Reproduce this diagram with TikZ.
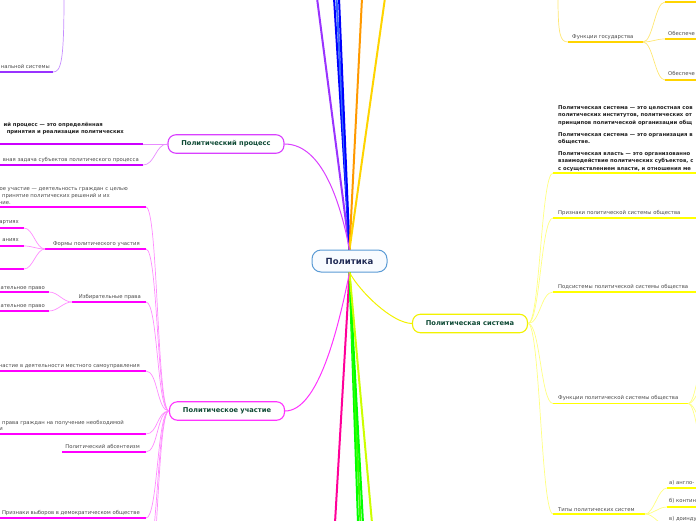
\documentclass[tikz,border=0pt]{standalone}
\usepackage{fontspec}
\setmainfont{DejaVu Sans}
\usetikzlibrary{positioning}
\definecolor{centerblue}{HTML}{5B9BD5}
\definecolor{centerfill}{HTML}{F8FBFF}
\definecolor{navytext}{HTML}{1F2A55}
\definecolor{topictext}{HTML}{0F4A35}
\definecolor{leaftext}{HTML}{4A4A4A}
\definecolor{boldtext}{HTML}{222222}
\definecolor{procpurple}{HTML}{CC00FF}
\definecolor{partmagenta}{HTML}{FF00FF}
\definecolor{sysyellow}{HTML}{FFFF00}
\definecolor{stategold}{HTML}{FFD400}
\definecolor{topviolet}{HTML}{9933FF}
\definecolor{deepblue}{HTML}{0000FF}
\definecolor{midblue}{HTML}{3366FF}
\definecolor{lineorange}{HTML}{FF9900}
\definecolor{linepink}{HTML}{FF0099}
\definecolor{linegreen}{HTML}{00FF00}
\definecolor{linelime}{HTML}{CCFF00}

\begin{document}
\begin{tikzpicture}[x=1pt, y=-1pt,
    central/.style={rectangle, rounded corners=9pt, draw=centerblue, fill=centerfill, line width=1pt, minimum width=75pt, minimum height=22pt, inner sep=0pt, font=\fontsize{8.5}{10}\selectfont\bfseries, text=navytext},
    topic/.style={rectangle, rounded corners=8pt, fill=white, line width=1.1pt, minimum width=115pt, minimum height=18.5pt, inner sep=0pt, font=\fontsize{6.7}{8}\selectfont\bfseries, text=topictext},
    leaf/.style={inner sep=0pt, align=left, font=\fontsize{5.3}{7}\selectfont, text=leaftext},
    boldleaf/.style={leaf, font=\fontsize{5.3}{7.3}\selectfont\bfseries, text=boldtext},
    branch/.style={line width=2pt},
    link/.style={line width=1pt},
    bar/.style={line width=1.8pt},
    twig/.style={line width=0.7pt},
    fan/.style={out=0, in=180, distance=12pt}
]
\useasboundingbox (0,0) rectangle (696,520);
\clip (0,0) rectangle (696,520);

% centre and main topics
\node[central] (pol) at (349.5,261) {Политика};
\node[topic, draw=procpurple!75, minimum width=116pt] (proc) at (226,144) {Политический процесс};
\node[topic, draw=partmagenta!80] (part) at (227,411) {Политическое участие};
\node[topic, draw=sysyellow!95!black] (sys) at (470,323.5) {Политическая система};

% branches leaving the picture
\foreach \tag/\xx/\col in {a/317/topviolet, b/334/deepblue, c/336.5/midblue, d/339/deepblue, e/362/lineorange, f/385/stategold}{
  \coordinate (top\tag) at (\xx,-2);
  \draw[branch, \col] (pol.north) -- (top\tag);
}
\foreach \tag/\xx/\col in {a/335/linepink, b/358/linegreen, c/360.5/linegreen!75!linelime, d/363/linegreen, e/372/linelime}{
  \coordinate (bot\tag) at (\xx,523);
  \draw[branch, \col] (pol.south) -- (bot\tag);
}

\draw[link, procpurple!75] (pol.north) .. controls (338,190) and (318,144) .. (proc.east);
\draw[link, partmagenta!80] (pol.south) .. controls (338,330) and (318,411) .. (part.east);
\draw[link, sysyellow!95!black] (pol.south) .. controls (360,292) and (392,323) .. (sys.west);

% top left
\node[leaf, anchor=base east] (netsys) at (50,68.5) {нальной системы};
\draw[bar, topviolet] (-2,72) -- (53,72) coordinate (netsys-R);
\coordinate (violettop) at (64,-3);
\draw[twig, topviolet!55] (violettop) .. controls (64,62) and (61,72) .. (netsys-R);

% political process
\node[boldleaf, anchor=base east] (procdef) at (103,126.5) {ий процесс — это определённая};
\node[boldleaf, anchor=base east] (procdefb) at (124,133) {принятия и реализации политических};
\draw[bar, procpurple] (-2,144) -- (143,144) coordinate (procdef-R);
\node[leaf, anchor=base east] (proctask) at (139,161.5) {вная задача субъектов политического процесса};
\draw[bar, procpurple] (-2,165) -- (143,165) coordinate (proctask-R);
\foreach \t in {procdef,proctask}
  \draw[twig, procpurple!45] (\t-R) to[fan] (proc.west);

% political participation
\node[leaf, anchor=base east] (partdef) at (128,190) {ое участие — деятельность граждан с целью};
\node[leaf, anchor=base east] (partdefb) at (110,197) {принятие политических решений и их};
\node[leaf, anchor=base east] (partdefc) at (11,204) {ние.};
\draw[bar, partmagenta] (-2,207) -- (146,207) coordinate (partdef-R);
\node[leaf, anchor=base east] (forms) at (140,245.5) {Формы политического участия};
\draw[bar, partmagenta] (45,249) coordinate (forms-L) -- (146,249) coordinate (forms-R);
\node[leaf, anchor=base east] (formsa) at (19,223.5) {артиях};
\draw[bar, partmagenta] (-2,228) -- (24,228) coordinate (formsa-R);
\node[leaf, anchor=base east] (formsb) at (19,241.5) {аниях};
\draw[bar, partmagenta] (-2,246) -- (24,246) coordinate (formsb-R);
\draw[bar, partmagenta] (-2,269) -- (24,269) coordinate (formsc-R);
\foreach \t in {formsa,formsb,formsc}
  \draw[twig, partmagenta!45] (\t-R) to[fan, distance=9pt] (forms-L);
\node[leaf, anchor=base east] (votes) at (141,298.5) {Избирательные права};
\draw[bar, partmagenta] (72,302) coordinate (votes-L) -- (146,302) coordinate (votes-R);
\node[leaf, anchor=base east] (votesa) at (45,289) {ательное право};
\draw[bar, partmagenta] (-2,292) -- (49,292) coordinate (votesa-R);
\node[leaf, anchor=base east] (votesb) at (45,307.5) {ательное право};
\draw[bar, partmagenta] (-2,311) -- (49,311) coordinate (votesb-R);
\foreach \t in {votesa,votesb}
  \draw[twig, partmagenta!45] (\t-R) to[fan, distance=9pt] (votes-L);
\node[leaf, anchor=base east] (local) at (140,367) {частие в деятельности местного самоуправления};
\draw[bar, partmagenta] (-2,371) -- (146,371) coordinate (local-R);
\node[leaf, anchor=base east] (inform) at (124,424) {права граждан на получение необходимой};
\node[leaf, anchor=base east] (informb) at (3,430.5) {и};
\draw[bar, partmagenta] (-2,434) -- (146,434) coordinate (inform-R);
\node[leaf, anchor=base east] (absent) at (140,448.5) {Политический абсентеизм};
\draw[bar, partmagenta] (62,452) -- (146,452) coordinate (absent-R);
\node[leaf, anchor=base east] (elect) at (140,514.5) {Признаки выборов в демократическом обществе};
\draw[bar, partmagenta] (-2,518) -- (146,518) coordinate (elect-R);
\coordinate (partoffa-R) at (146,560);
\coordinate (partoffb-R) at (146,600);
\foreach \t in {partdef,forms,votes,local,inform,absent,elect,partoffa,partoffb}
  \draw[twig, partmagenta!45] (\t-R) to[fan] (part.west);

% functions of the state (top right)
\node[leaf, anchor=base west] (statefn) at (572,38.5) {Функции государства};
\draw[bar, stategold] (568,42) coordinate (statefn-L) -- (643,42) coordinate (statefn-R);
\coordinate (goldtop) at (558,-3);
\draw[twig, stategold!55] (goldtop) .. controls (558,34) and (560,42) .. (statefn-L);
\draw[bar, stategold] (665,2) coordinate (statea-L) -- (700,2);
\node[leaf, anchor=base west] (stateb) at (668,35.5) {Обеспече};
\draw[bar, stategold] (665,39) coordinate (stateb-L) -- (700,39);
\node[leaf, anchor=base west] (statec) at (668,75) {Обеспече};
\draw[bar, stategold] (665,80) coordinate (statec-L) -- (700,80);
\foreach \t in {statea,stateb,statec}
  \draw[twig, stategold!55] (statefn-R) to[fan, distance=10pt] (\t-L);

% political system
\node[boldleaf, anchor=base west] (sysdef) at (558,170) {Политическая система — это целостная сов\\политических институтов, политических от\\принципов политической организации общ\\[4.7pt]Политическая система — это организация в\\обществе.\\[4.7pt]Политическая власть — это организованно\\взаимодействие политических субъектов, с\\с осуществлением власти, и отношения ме};
\draw[bar, sysyellow] (553,173) coordinate (sysdef-L) -- (700,173);
\node[leaf, anchor=base west] (sysfeat) at (558,214.5) {Признаки политической системы общества};
\draw[bar, sysyellow] (553,218) coordinate (sysfeat-L) -- (700,218);
\node[leaf, anchor=base west] (syssub) at (558,288.5) {Подсистемы политической системы общества};
\draw[bar, sysyellow] (553,292) coordinate (syssub-L) -- (700,292);
\node[leaf, anchor=base west] (sysfn) at (558,399.5) {Функции политической системы общества};
\draw[bar, sysyellow] (553,403.5) coordinate (sysfn-L) -- (688,403.5) coordinate (sysfn-R);
\node[leaf, anchor=base west] (systype) at (558,511) {Типы политических систем};
\draw[bar, sysyellow] (553,514) coordinate (systype-L) -- (645,514) coordinate (systype-R);
\foreach \t in {sysdef,sysfeat,syssub,sysfn,systype}
  \draw[twig, sysyellow!50] (sys.east) to[fan] (\t-L);
\foreach \yy [count=\i] in {360,385,425,450}{
  \coordinate (sysfnoff\i) at (706,\yy);
  \draw[twig, sysyellow!50] (sysfn-R) to[fan, distance=8pt] (sysfnoff\i);
}
\node[leaf, anchor=base west] (typea) at (669,484.5) {а) англо-};
\draw[bar, sysyellow] (667,488) coordinate (typea-L) -- (700,488);
\node[leaf, anchor=base west] (typeb) at (669,502.5) {б) контин};
\draw[bar, sysyellow] (667,507) coordinate (typeb-L) -- (700,507);
\node[leaf, anchor=base west] (typec) at (669,520.5) {в) доинду};
\draw[bar, sysyellow] (667,525) coordinate (typec-L) -- (700,525);
\foreach \t in {typea,typeb,typec}
  \draw[twig, sysyellow!50] (systype-R) to[fan, distance=9pt] (\t-L);
\end{tikzpicture}
\end{document}
